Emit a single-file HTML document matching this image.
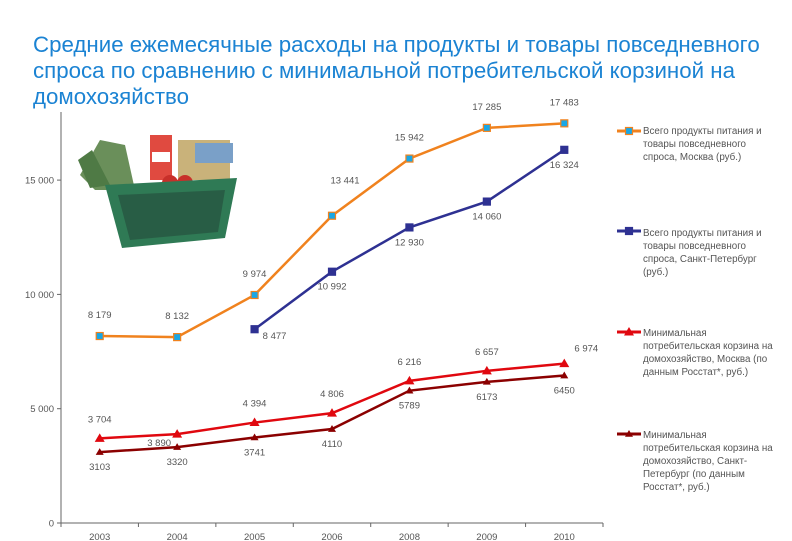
<!DOCTYPE html>
<html><head><meta charset="utf-8"><style>
body{margin:0;background:#fff;width:792px;height:541px;overflow:hidden;font-family:"Liberation Sans",sans-serif;position:relative}
#title{position:absolute;left:33px;top:32px;width:760px;font-size:22.3px;line-height:26px;color:#1b83d3;white-space:nowrap}
.leg{position:absolute;left:643px;font-size:9.8px;line-height:13px;color:#555;width:150px}
svg{position:absolute;left:0;top:0}
</style></head><body>
<div id="title">Средние ежемесячные расходы на продукты и товары повседневного<br>спроса по сравнению с минимальной потребительской корзиной на<br>домохозяйство</div>
<svg id="c" width="792" height="541">
<g>
<path d="M80 175 L100 140 L125 145 L135 190 L95 190Z" fill="#6a8f5a"/>
<path d="M78 160 L92 150 L110 185 L90 188Z" fill="#4f7a45"/>
<rect x="150" y="135" width="22" height="45" fill="#e04a40"/>
<rect x="152" y="152" width="18" height="10" fill="#fff"/>
<rect x="178" y="140" width="52" height="40" fill="#c9b27a"/>
<rect x="195" y="143" width="38" height="20" fill="#7aa0c8"/>
<circle cx="170" cy="183" r="8" fill="#c8302a"/><circle cx="185" cy="183" r="8" fill="#c8302a"/>
<path d="M105 185 L237 178 L225 238 L122 248Z" fill="#2f7a55"/>
<path d="M118 195 L225 190 L218 232 L130 240Z" fill="#244a3a" opacity="0.6"/>
</g>
<g id="axes"></g><g id="plot"></g><g id="legm"></g>
</svg>
<div class="leg" style="top:125px">Всего продукты питания и<br>товары повседневного<br>спроса, Москва (руб.)</div>
<div class="leg" style="top:227px">Всего продукты питания и<br>товары повседневного<br>спроса, Санкт-Петербург<br>(руб.)</div>
<div class="leg" style="top:327px">Минимальная<br>потребительская корзина на<br>домохозяйство, Москва (по<br>данным Росстат*, руб.)</div>
<div class="leg" style="top:429px">Минимальная<br>потребительская корзина на<br>домохозяйство, Санкт-<br>Петербург (по данным<br>Росстат*, руб.)</div>
<script>
const categories=["2003","2004","2005","2006","2008","2009","2010"];
const moscowTotal=[8179,8132,9974,13441,15942,17285,17483];
const spbTotal=[null,null,8477,10992,12930,14060,16324];
const moscowMin=[3704,3890,4394,4806,6216,6657,6974];
const spbMin=[3103,3320,3741,4110,5789,6173,6450];
const yTicks=[0,5000,10000,15000];
const yTickLabels=["0","5 000","10 000","15 000"];
const NS="http://www.w3.org/2000/svg";
const x0=61,x1=603,y0=523,yTop=112;
const bw=(x1-x0)/categories.length;
function X(i){return x0+bw*(i+0.5);}
function Y(v){return y0-v*(114.3/5000);}
function mk(t,a,p){const e=document.createElementNS(NS,t);for(const k in a)e.setAttribute(k,a[k]);p.appendChild(e);return e;}
const ax=document.getElementById('axes'),pl=document.getElementById('plot'),lg=document.getElementById('legm');
let e=mk('line',{x1:x0,y1:yTop,x2:x0,y2:y0,stroke:'#666'},ax);

e=mk('line',{x1:x0,y1:y0,x2:x1,y2:y0,stroke:'#666'},ax);

yTicks.forEach((v,i)=>{mk('line',{x1:x0-4,y1:Y(v),x2:x0,y2:Y(v),stroke:'#666'},ax);
const t=mk('text',{x:x0-7,y:Y(v)+3.5,'text-anchor':'end','font-size':'9.5',fill:'#555'},ax);t.textContent=yTickLabels[i];
});
for(let i=0;i<=categories.length;i++)mk('line',{x1:x0+bw*i,y1:y0,x2:x0+bw*i,y2:y0+4,stroke:'#666'},ax);
categories.forEach((c,i)=>{const t=mk('text',{x:X(i),y:y0+17,'text-anchor':'middle','font-size':'9.5',fill:'#555'},ax);t.textContent=c;
});
function fmt(v,sp){return sp?String(v).replace(/\B(?=(\d{3})+(?!\d))/g,' '):String(v);}
function marker(g,x,y,color,marker,mfill){
 if(marker==='sq')return mk('rect',{x:x-3.5,y:y-3.5,width:7,height:7,fill:mfill,stroke:color,'stroke-width':1.2},g);
 const s=marker;return mk('polygon',{points:`${x},${y-s} ${x-s},${y+s*0.7} ${x+s},${y+s*0.7}`,fill:color},g);}
function series(vals,name,color,mt,mfill,lab,ly){
 const g=mk('g',{},pl);
 const pts=[];vals.forEach((v,i)=>{if(v!=null)pts.push([X(i),Y(v),v,i]);});
 mk('polyline',{points:pts.map(p=>p[0]+','+p[1]).join(' '),fill:'none',stroke:color,'stroke-width':2.5},g);
 pts.forEach(p=>{const m=marker(g,p[0],p[1],color,mt,mfill);
  
  const o=lab(p[3]);const t=mk('text',{x:p[0]+o[0],y:p[1]+o[1],'text-anchor':'middle','font-size':'9.5',fill:'#555'},g);
  t.textContent=fmt(p[2],o[2]);});
 const lm=mk('g',{},lg);
 mk('line',{x1:617,y1:ly,x2:641,y2:ly,stroke:color,'stroke-width':3},lm);
 marker(lm,629,ly,color,mt,mfill);
}
series(moscowTotal,'series-moscow-total','#f0821e','sq','#19a7e6',i=>i===3?[13,-32,1]:[0,-18,1],131);
series(spbTotal,'series-spb-total','#2e3192','sq','#2e3192',i=>i===2?[20,10,1]:[0,18,1],231);
series(moscowMin,'series-moscow-min','#e0080f',5,'',i=>i===1?[-18,12,1]:i===6?[22,-12,1]:[0,-16,1],332);
series(spbMin,'series-spb-min','#8b0000',4,'',i=>[0,18,0],434);
</script>
</body></html>
